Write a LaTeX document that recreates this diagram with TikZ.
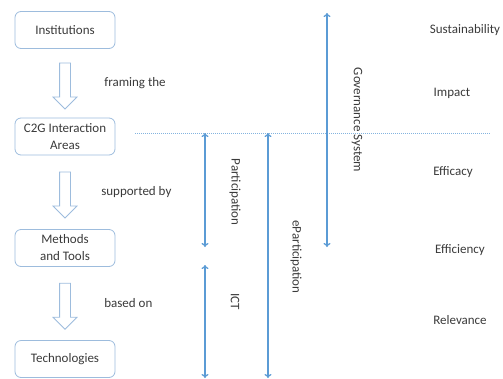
\documentclass[tikz,border=0pt]{standalone}
\usepackage{fontspec}
\setmainfont{Carlito}
\usetikzlibrary{arrows.meta,shapes.arrows,positioning,calc}
\definecolor{boxblue}{HTML}{9DBCDD}
\definecolor{arrowblue}{HTML}{5B9BD5}
\definecolor{textgray}{HTML}{3A3A3A}
\tikzset{
  level/.style={draw=boxblue, line width=0.8pt, rounded corners=6pt,
    minimum width=100pt, minimum height=37pt, align=center, text=textgray},
  hollow/.style={single arrow, draw=boxblue, line width=0.8pt, inner sep=5pt,
    minimum width=23pt, minimum height=46pt, single arrow head extend=6.5pt,
    shape border rotate=270},
  word/.style={text=textgray},
  span/.style={draw=arrowblue, line width=1.3pt, {To[length=4pt,width=7pt]}-{To[length=4pt,width=7pt]}},
  side/.style={text=textgray, rotate=-90}
}

\begin{document}
\begin{tikzpicture}[x=1pt, y=1pt, font=\fontsize{13}{17}\selectfont]
    \useasboundingbox (0,0) rectangle (503,-378);

    % left column
    \node[level] (inst) at (65,-30) {Institutions};
    \node[level] (areas) at (65,-136.5) {C2G Interaction\\Areas};
    \node[level] (tools) at (65,-248) {Methods\\and Tools};
    \node[level] (tech) at (65,-359) {Technologies};

    \node[hollow] (frame) at ($(inst.south)!0.5!(areas.north)$) {};
    \node[hollow] (support) at ($(areas.south)!0.5!(tools.north)$) {};
    \node[hollow] (base) at ($(tools.south)!0.5!(tech.north)$) {};
    \node[word, right=30pt of frame] (framelbl) {framing the};
    \node[word, right=27pt of support] (supportlbl) {supported by};
    \node[word, right=30pt of base] (baselbl) {based on};

    % dotted separator
    \coordinate (sepstart) at (135,-133);
    \coordinate (sepend) at (490,-133);
    \draw[arrowblue!75, line width=0.6pt, dash pattern=on 1pt off 1pt] (sepstart) -- (sepend);

    % spans
    \coordinate (parttop) at (205,-133);
    \coordinate (partbot) at (205,-247);
    \coordinate (icttop) at (205,-265);
    \coordinate (ictbot) at (205,-378);
    \coordinate (eparttop) at (268,-133);
    \coordinate (epartbot) at (268,-378);
    \coordinate (govtop) at (327,-13);
    \coordinate (govbot) at (327,-247);
    \draw[span] (parttop) -- (partbot);
    \draw[span] (icttop) -- (ictbot);
    \draw[span] (eparttop) -- (epartbot);
    \draw[span] (govtop) -- (govbot);

    \node[side] (partlbl) at (235,-192) {Participation};
    \node[side] (ictlbl) at (235,-302) {ICT};
    \node[side] (epartlbl) at (296,-257) {eParticipation};
    \node[side] (govlbl) at (357,-120) {Governance System};

    % right column
    \node[word] (sust) at (465,-30) {Sustainability};
    \node[word] (impact) at (452,-93) {Impact};
    \node[word] (efficacy) at (453,-172) {Efficacy};
    \node[word] (efficiency) at (460,-250) {Efficiency};
    \node[word] (relevance) at (460,-320) {Relevance};
\end{tikzpicture}
\end{document}
